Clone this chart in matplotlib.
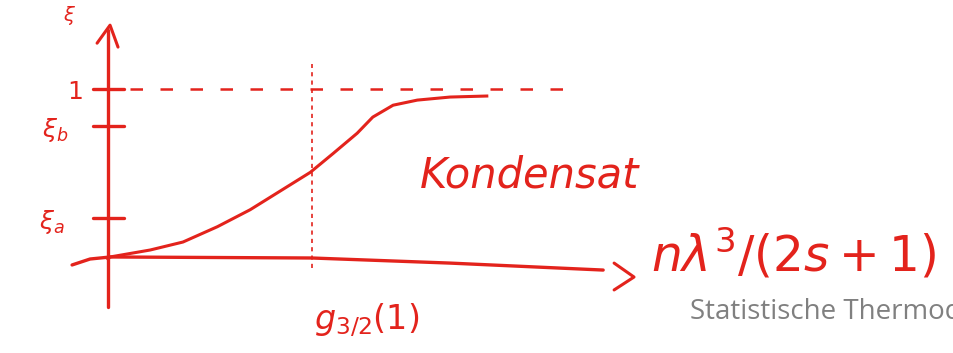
import numpy as np
import matplotlib.pyplot as plt

# Skizze: Bose-Kondensation, xi ueber n*lambda^3/(2s+1)
rot = '#e3231c'

x_kurve = [0.0, 0.026, 0.54, 0.96, 1.40, 1.82, 2.24, 2.59, 2.88, 3.19, 3.39,
           3.65, 3.96, 4.38, 4.85]
xi_kurve = [0.0, 0.012, 0.053, 0.10, 0.19, 0.29, 0.41, 0.51, 0.62, 0.74, 0.835,
            0.905, 0.935, 0.953, 0.959]

# Achsenlinien (leicht schief, wie gezeichnet)
x_achse_x = [-0.46, -0.23, 0.03, 2.61, 4.38, 6.34]
x_achse_y = [-0.035, 0.0, 0.012, 0.006, -0.024, -0.065]
pfeil_x = [6.48, 6.735, 6.48]
pfeil_y = [-0.024, -0.106, -0.182]
y_achse_x = [0.0, 0.0]
y_achse_y = [-0.28, 1.35]
y_pfeil_x = [-0.14, 0.026, 0.128]
y_pfeil_y = [1.27, 1.376, 1.247]

# markierte Werte auf der xi-Achse
xi_werte = [1.0, 0.78, 0.24]
xi_namen = ['1', r'$\xi_b$', r'$\xi_a$']
g32 = 2.612  # g_{3/2}(1)

fig = plt.figure(figsize=(9.54, 3.53), dpi=100)
ax = fig.add_axes([0, 0, 1, 1])
ax.set_xlim(-1.383, 10.832)
ax.set_ylim(-0.553, 1.524)
ax.axis('off')

ax.plot(x_achse_x, x_achse_y, color=rot, lw=2.4, solid_capstyle='round')
ax.plot(pfeil_x, pfeil_y, color=rot, lw=2.2, solid_capstyle='round')
ax.plot(y_achse_x, y_achse_y, color=rot, lw=2.4, solid_capstyle='round')
ax.plot(y_pfeil_x, y_pfeil_y, color=rot, lw=2.2, solid_capstyle='round')

for w in xi_werte:
    ax.plot([-0.19, 0.2], [w, w], color=rot, lw=2.4, solid_capstyle='round')

ax.plot(x_kurve, xi_kurve, color=rot, lw=2.2, solid_joinstyle='round')

# gestrichelte Linie bei xi = 1 und Markierung bei g_{3/2}(1)
ax.plot([0.28, 6.04], [1.0, 1.0], color=rot, lw=1.8, linestyle=(0, (5, 7)))
ax.plot([g32, g32], [-0.05, 1.15], color=rot, lw=1.2, linestyle=(0, (2.5, 2.5)))

ax.text(-0.49, 1.43, r'$\xi$', color=rot, fontsize=14, ha='center', va='center')
for w, name, dx in zip(xi_werte, xi_namen, [-0.42, -0.68, -0.72]):
    ax.text(dx, w - 0.02, name, color=rot, fontsize=18, ha='center', va='center')

ax.text(5.4, 0.49, 'Kondensat', color=rot, fontsize=30, ha='center', va='center',
        style='italic')
ax.text(6.95, 0.03, r'$n\lambda^3/(2s+1)$', color=rot, fontsize=35, ha='left', va='center')
ax.text(g32 + 0.7, -0.36, r'$g_{3/2}(1)$', color=rot, fontsize=24, ha='center', va='center')
ax.text(7.45, -0.31, 'Statistische Thermodynamik', color='#808080', fontsize=20,
        family='Open Sans', ha='left', va='center')

fig.savefig('out.png', dpi=100, facecolor='white')
